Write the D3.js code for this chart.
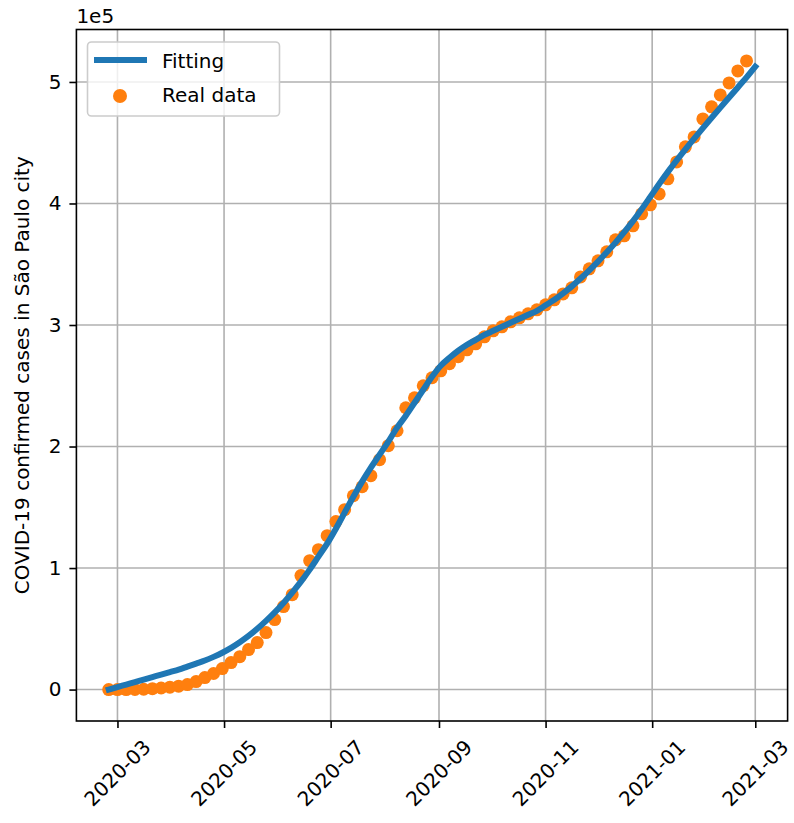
<!DOCTYPE html>
<html>
<head>
<meta charset="utf-8">
<script src="https://cdn.jsdelivr.net/npm/d3@7"></script>
<style>
  body { margin: 0; background: #fff; }
  svg { display: block; }
  text { font-family: "DejaVu Sans", sans-serif; fill: #000; }
</style>
</head>
<body>
<svg id="chart" width="794" height="823"></svg>
<script>
// Sampling dates of the reported cumulative counts (every 5 days)
const dates = [
  "2020-02-25","2020-03-01","2020-03-06","2020-03-11","2020-03-16","2020-03-21","2020-03-26","2020-03-31",
  "2020-04-05","2020-04-10","2020-04-15","2020-04-20","2020-04-25","2020-04-30","2020-05-05","2020-05-10",
  "2020-05-15","2020-05-20","2020-05-25","2020-05-30","2020-06-04","2020-06-09","2020-06-14","2020-06-19",
  "2020-06-24","2020-06-29","2020-07-04","2020-07-09","2020-07-14","2020-07-19","2020-07-24","2020-07-29",
  "2020-08-03","2020-08-08","2020-08-13","2020-08-18","2020-08-23","2020-08-28","2020-09-02","2020-09-07",
  "2020-09-12","2020-09-17","2020-09-22","2020-09-27","2020-10-02","2020-10-07","2020-10-12","2020-10-17",
  "2020-10-22","2020-10-27","2020-11-01","2020-11-06","2020-11-11","2020-11-16","2020-11-21","2020-11-26",
  "2020-12-01","2020-12-06","2020-12-11","2020-12-16","2020-12-21","2020-12-26","2020-12-31","2021-01-05",
  "2021-01-10","2021-01-15","2021-01-20","2021-01-25","2021-01-30","2021-02-04","2021-02-09","2021-02-14",
  "2021-02-19","2021-02-24"
];

// Reported cumulative confirmed cases
const realCases = [
  1, 2, 10, 60, 250, 700, 1300, 2000, 2800, 4100,
  6600, 9900, 13200, 17300, 22200, 27100, 32900, 38700, 46900, 57600,
  68300, 78100, 93800, 106100, 115100, 126600, 138200, 148000, 159500, 166900,
  176000, 189200, 200700, 213000, 231900, 240100, 250000, 256600, 262300, 268100,
  273900, 279600, 284500, 290300, 295200, 298500, 302600, 305900, 309200, 312500,
  316600, 320700, 325600, 330600, 339600, 346200, 352800, 360200, 370100, 373400,
  381600, 391500, 398900, 407900, 420300, 434200, 446600, 454800, 469600, 479500,
  489300, 499200, 509100, 517300
];

// Fitted model, evaluated on the same dates plus one final date
const fitDates = dates.concat(["2021-03-01"]);
const fitCases = [
  0, 2100, 4100, 6200, 8200, 10300, 12300, 14400, 16400, 18900,
  21400, 23900, 26900, 30300, 34300, 38900, 44100, 50000, 56500, 63500,
  71300, 79800, 88800, 98700, 109400, 120100, 132400, 145600, 158700, 171100,
  182600, 193300, 204000, 215500, 225300, 236000, 246700, 257400, 266500, 273000,
  278800, 283700, 287800, 291900, 295200, 298500, 301800, 305100, 308400, 311700,
  316200, 320700, 326000, 331800, 338200, 345000, 352200, 359800, 367800, 376400,
  385500, 395300, 405600, 416000, 426000, 435500, 444600, 453400, 462000, 470500,
  478900, 487200, 495500, 503800, 512600
];

const xTickLabels = ["2020-03","2020-05","2020-07","2020-09","2020-11","2021-01","2021-03"];
const yTickValues = [0, 100000, 200000, 300000, 400000, 500000];
const yTickLabels = ["0", "1", "2", "3", "4", "5"];
const legendLabels = ["Fitting", "Real data"];
const yLabel = "COVID-19 confirmed cases in São Paulo city";
const offsetLabel = "1e5";

const BLUE = "#1f77b4", ORANGE = "#ff7f0e";
const svg = d3.select("#chart");
const plot = { left: 76.4, right: 787.6, top: 29.5, bottom: 721 };

const parseDay = d3.timeParse("%Y-%m-%d");
const parseMonth = d3.timeParse("%Y-%m");
const realData = dates.map((d, i) => ({ t: parseDay(d), v: realCases[i] }));
const fitData = fitDates.map((d, i) => ({ t: parseDay(d), v: fitCases[i] }));

// Autoscale with 5% margins on both axes
function padded(lo, hi) { const p = (hi - lo) * 0.05; return [lo - p, hi + p]; }
const tAll = realData.concat(fitData).map(d => +d.t);
const vAll = realData.concat(fitData).map(d => d.v);
const [t0, t1] = padded(d3.min(tAll), d3.max(tAll));
const [v0, v1] = padded(d3.min(vAll), d3.max(vAll));

const x = d3.scaleTime().domain([new Date(t0), new Date(t1)]).range([plot.left, plot.right]);
const y = d3.scaleLinear().domain([v0, v1]).range([plot.bottom, plot.top]);

const xTicks = xTickLabels.map(parseMonth);

// Grid
const grid = svg.append("g");
grid.selectAll("line.gx").data(xTicks).join("line")
  .attr("x1", d => x(d)).attr("x2", d => x(d))
  .attr("y1", plot.top).attr("y2", plot.bottom)
  .attr("stroke", "#b0b0b0").attr("stroke-width", 1.6);
grid.selectAll("line.gy").data(yTickValues).join("line")
  .attr("y1", d => y(d)).attr("y2", d => y(d))
  .attr("x1", plot.left).attr("x2", plot.right)
  .attr("stroke", "#b0b0b0").attr("stroke-width", 1.6);

// Clip to the axes area
svg.append("clipPath").attr("id", "plotClip").append("rect")
  .attr("x", plot.left).attr("y", plot.top)
  .attr("width", plot.right - plot.left).attr("height", plot.bottom - plot.top);

const content = svg.append("g").attr("clip-path", "url(#plotClip)");

// Reported data as dots
content.selectAll("circle.real").data(realData).join("circle")
  .attr("class", "real")
  .attr("cx", d => x(d.t)).attr("cy", d => y(d.v))
  .attr("r", 6.5).attr("fill", ORANGE);

// Fitted curve on top
const line = d3.line().x(d => x(d.t)).y(d => y(d.v)).curve(d3.curveCatmullRom);
content.append("path").datum(fitData)
  .attr("d", line).attr("fill", "none")
  .attr("stroke", BLUE).attr("stroke-width", 6)
  .attr("stroke-linecap", "square").attr("stroke-linejoin", "round");

// Axes
const xAxis = d3.axisBottom(x).tickValues(xTicks).tickSize(7).tickPadding(7).tickFormat(() => "");
const gx = svg.append("g").attr("transform", `translate(0,${plot.bottom})`).call(xAxis);
gx.select(".domain").remove();
gx.selectAll(".tick line").attr("stroke", "#000").attr("stroke-width", 1.6);

const xLab = svg.append("g");
xLab.selectAll("text").data(xTicks).join("text")
  .attr("transform", (d) => `translate(${x(d)},${plot.bottom + 52}) rotate(-45)`)
  .attr("text-anchor", "middle").attr("dy", "0.35em")
  .style("font-size", "20px")
  .text((d, i) => xTickLabels[i]);

const yAxis = d3.axisLeft(y).tickValues(yTickValues).tickSize(7).tickPadding(8)
  .tickFormat((d, i) => yTickLabels[i]);
const gy = svg.append("g").attr("transform", `translate(${plot.left},0)`).call(yAxis);
gy.select(".domain").remove();
gy.selectAll(".tick line").attr("stroke", "#000").attr("stroke-width", 1.6);
gy.selectAll(".tick text").style("font-size", "20px").style("font-family", "DejaVu Sans, sans-serif").attr("fill", "#000");

// Frame
svg.append("rect")
  .attr("x", plot.left).attr("y", plot.top)
  .attr("width", plot.right - plot.left).attr("height", plot.bottom - plot.top)
  .attr("fill", "none").attr("stroke", "#000").attr("stroke-width", 1.6);

// Offset (scale) text
svg.append("text").attr("x", plot.left).attr("y", 23)
  .style("font-size", "20px").text(offsetLabel);

// Y label
svg.append("text")
  .attr("transform", `translate(28.5,${(plot.top + plot.bottom) / 2}) rotate(-90)`)
  .attr("text-anchor", "middle")
  .style("font-size", "20px")
  .text(yLabel);

// Legend
const lg = svg.append("g");
lg.append("rect")
  .attr("x", 87.5).attr("y", 42).attr("width", 192).attr("height", 74)
  .attr("rx", 4).attr("ry", 4)
  .attr("fill", "#fff").attr("fill-opacity", 0.8)
  .attr("stroke", "#cccccc").attr("stroke-width", 1.6);
lg.append("line")
  .attr("x1", 97).attr("x2", 144).attr("y1", 60).attr("y2", 60)
  .attr("stroke", BLUE).attr("stroke-width", 6).attr("stroke-linecap", "square");
lg.append("circle").attr("cx", 120).attr("cy", 96).attr("r", 7).attr("fill", ORANGE);
lg.append("text").attr("x", 162).attr("y", 68).style("font-size", "20px").text(legendLabels[0]);
lg.append("text").attr("x", 162).attr("y", 102).style("font-size", "20px").text(legendLabels[1]);
</script>
</body>
</html>
